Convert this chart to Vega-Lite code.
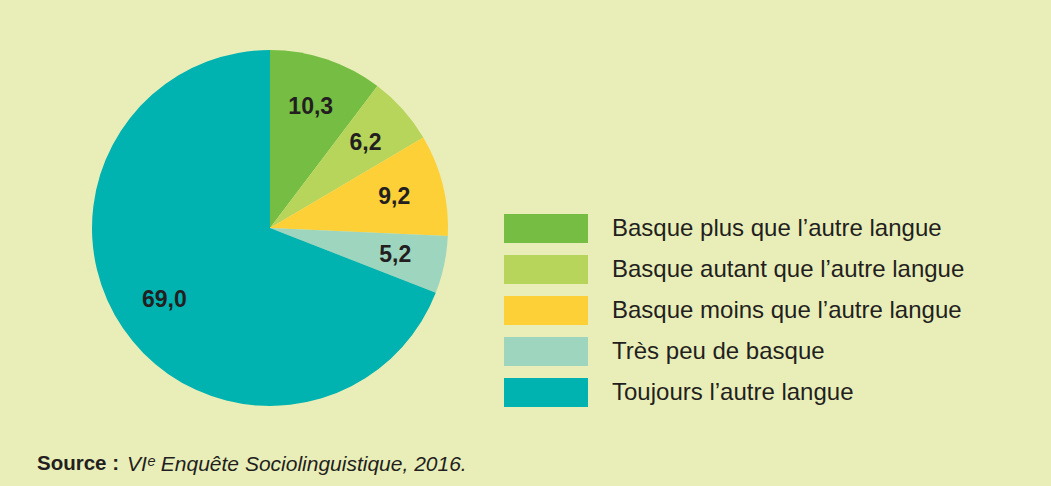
{
  "$schema": "https://vega.github.io/schema/vega-lite/v6.json",
  "width": 356,
  "height": 356,
  "autosize": {"type": "none"},
  "padding": {"left": 92, "top": 50, "right": 603, "bottom": 80},
  "background": "#E9EEB8",
  "config": {
    "view": {"stroke": null},
    "font": "Liberation Sans",
    "locale": {"number": {"decimal": ",", "thousands": " ", "grouping": [3], "currency": ["", " €"]}}
  },
  "data": {
    "values": [
      {"categorie": "Basque plus que l’autre langue", "valeur": 10.3, "ordre": 1, "source": "VIᵉ Enquête Sociolinguistique, 2016."},
      {"categorie": "Basque autant que l’autre langue", "valeur": 6.2, "ordre": 2, "source": "VIᵉ Enquête Sociolinguistique, 2016."},
      {"categorie": "Basque moins que l’autre langue", "valeur": 9.2, "ordre": 3, "source": "VIᵉ Enquête Sociolinguistique, 2016."},
      {"categorie": "Très peu de basque", "valeur": 5.2, "ordre": 4, "source": "VIᵉ Enquête Sociolinguistique, 2016."},
      {"categorie": "Toujours l’autre langue", "valeur": 69.0, "ordre": 5, "source": "VIᵉ Enquête Sociolinguistique, 2016."}
    ]
  },
  "encoding": {
    "theta": {"field": "valeur", "type": "quantitative", "stack": true},
    "order": {"field": "ordre", "type": "quantitative"}
  },
  "layer": [
    {
      "mark": {"type": "arc", "outerRadius": 178, "stroke": null},
      "encoding": {
        "color": {
          "field": "categorie",
          "type": "nominal",
          "scale": {
            "domain": ["Basque plus que l’autre langue", "Basque autant que l’autre langue", "Basque moins que l’autre langue", "Très peu de basque", "Toujours l’autre langue"],
            "range": ["#76BD43", "#B6D55A", "#FDD037", "#9ED5BF", "#00B2B0"]
          },
          "legend": {
            "orient": "none",
            "legendX": 412,
            "legendY": 164,
            "title": null,
            "padding": 0,
            "symbolType": "M-1,-0.345H1V0.345H-1Z",
            "symbolSize": 7056,
            "symbolStrokeWidth": 0,
            "symbolOpacity": 1,
            "clipHeight": 29,
            "rowPadding": 12,
            "labelOffset": 24,
            "labelFontSize": 24,
            "labelColor": "#231F20",
            "labelLimit": 0,
            "labelFont": "Liberation Sans"
          }
        },
        "opacity": {
          "field": "source",
          "type": "ordinal",
          "scale": {"range": [1]},
          "legend": {
            "orient": "none",
            "legendX": -55,
            "legendY": 404,
            "padding": 0,
            "title": "Source :",
            "titleOrient": "left",
            "titleFontSize": 20.5,
            "titleFontWeight": "bold",
            "titleColor": "#231F20",
            "titlePadding": 6,
            "titleBaseline": "middle",
            "titleFont": "Liberation Sans",
            "symbolSize": 0,
            "symbolOpacity": 0,
            "symbolStrokeWidth": 0,
            "labelOffset": -20,
            "labelFontSize": 21,
            "labelFontStyle": "italic",
            "labelColor": "#231F20",
            "labelLimit": 0,
            "labelFont": "Liberation Sans"
          }
        }
      }
    },
    {
      "mark": {"type": "text", "radius": 128, "fontSize": 23, "fontWeight": "bold", "color": "#231F20", "font": "Liberation Sans"},
      "encoding": {
        "text": {"field": "valeur", "type": "quantitative", "format": ".1f"}
      }
    }
  ]
}
